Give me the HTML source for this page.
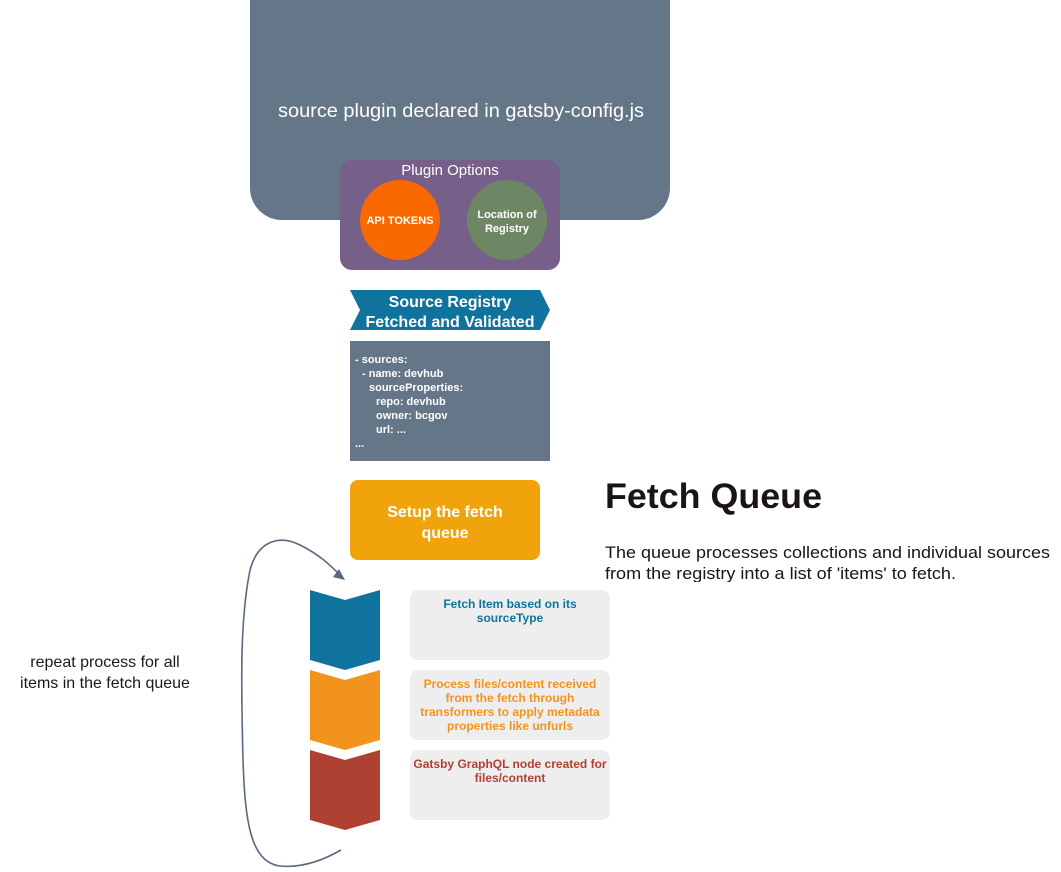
<!DOCTYPE html>
<html><head><meta charset="utf-8"><style>
html,body{margin:0;padding:0;background:#fff;}
svg{display:block;font-family:"Liberation Sans",Arial,sans-serif;}
</style></head><body>
<svg width="1061" height="872" viewBox="0 0 1061 872" xmlns="http://www.w3.org/2000/svg">
<defs><clipPath id="pc"><rect x="600" y="530" width="461" height="52"/></clipPath></defs>
<rect x="250" y="-30" width="420" height="250" rx="32" fill="#647687"/>
<text x="278" y="117" font-size="19" fill="#fff" textLength="366" lengthAdjust="spacingAndGlyphs">source plugin declared in gatsby-config.js</text>
<rect x="340" y="160" width="220" height="110" rx="12" fill="#76608a"/>
<text x="450" y="175" font-size="15" fill="#fff" text-anchor="middle">Plugin Options</text>
<circle cx="400" cy="220" r="40" fill="#fa6800"/>
<text x="400" y="224" font-size="11" font-weight="bold" fill="#fff" text-anchor="middle">API TOKENS</text>
<circle cx="507" cy="220" r="40" fill="#6d8764"/>
<text x="507" y="218" font-size="11" font-weight="bold" fill="#fff" text-anchor="middle">Location of</text>
<text x="507" y="232" font-size="11" font-weight="bold" fill="#fff" text-anchor="middle">Registry</text>
<polygon points="350,290 540,290 550,310 540,330 350,330 360,310" fill="#10739e"/>
<text x="450" y="307" font-size="16" font-weight="bold" fill="#fff" text-anchor="middle">Source Registry</text>
<text x="450" y="327" font-size="16" font-weight="bold" fill="#fff" text-anchor="middle">Fetched and Validated</text>
<rect x="350" y="341" width="200" height="120" fill="#647687"/>
<g font-size="11" font-weight="bold" fill="#fff" xml:space="preserve">
<text x="355" y="363">- sources:</text>
<text x="362" y="377">- name: devhub</text>
<text x="369" y="391">sourceProperties:</text>
<text x="376" y="405">repo: devhub</text>
<text x="376" y="419">owner: bcgov</text>
<text x="376" y="433">url: ...</text>
<text x="355" y="447">...</text>
</g>
<rect x="350" y="480" width="190" height="80" rx="8" fill="#f0a30a"/>
<text x="445" y="517" font-size="16" font-weight="bold" fill="#fff" text-anchor="middle">Setup the fetch</text>
<text x="445" y="538" font-size="16" font-weight="bold" fill="#fff" text-anchor="middle">queue</text>
<text x="605" y="508" font-size="35" font-weight="bold" fill="#1a1414" textLength="217" lengthAdjust="spacingAndGlyphs">Fetch Queue</text>
<g clip-path="url(#pc)" font-size="17" fill="#1a1414">
<text x="605" y="558" textLength="445" lengthAdjust="spacingAndGlyphs">The queue processes collections and individual sources</text>
<text x="605" y="579" textLength="351" lengthAdjust="spacingAndGlyphs">from the registry into a list of 'items' to fetch.</text>
</g>
<polygon points="310,590 345,600 380,590 380,660 345,670 310,660" fill="#10739e"/>
<polygon points="310,670 345,680 380,670 380,740 345,750 310,740" fill="#f2931e"/>
<polygon points="310,750 345,760 380,750 380,820 345,830 310,820" fill="#ae4132"/>
<rect x="410" y="590" width="200" height="70" rx="8" fill="#eeeeee"/>
<rect x="410" y="670" width="200" height="70" rx="8" fill="#eeeeee"/>
<rect x="410" y="750" width="200" height="70" rx="8" fill="#eeeeee"/>
<g font-size="12" font-weight="bold" text-anchor="middle">
<text x="510" y="608" fill="#10739e">Fetch Item based on its</text>
<text x="510" y="622" fill="#10739e">sourceType</text>
<text x="510" y="688" fill="#f2931e">Process files/content received</text>
<text x="510" y="702" fill="#f2931e">from the fetch through</text>
<text x="510" y="716" fill="#f2931e">transformers to apply metadata</text>
<text x="510" y="730" fill="#f2931e">properties like unfurls</text>
<text x="510" y="768" fill="#ae4132">Gatsby GraphQL node created for</text>
<text x="510" y="782" fill="#ae4132">files/content</text>
</g>
<path d="M341,850 C320,862 300,868 280,866 C250,862 245,820 243,760 C241,680 240,620 250,570 C258,540 280,535 300,545 C320,555 330,565 340,575" fill="none" stroke="#5a6a7d" stroke-width="1.6"/>
<polygon points="345,580 333,577 339,569" fill="#5a6a7d"/>
<text x="105" y="667" font-size="16" fill="#1a1a1a" text-anchor="middle">repeat process for all</text>
<text x="105" y="688" font-size="16" fill="#1a1a1a" text-anchor="middle">items in the fetch queue</text>
</svg>
</body></html>
